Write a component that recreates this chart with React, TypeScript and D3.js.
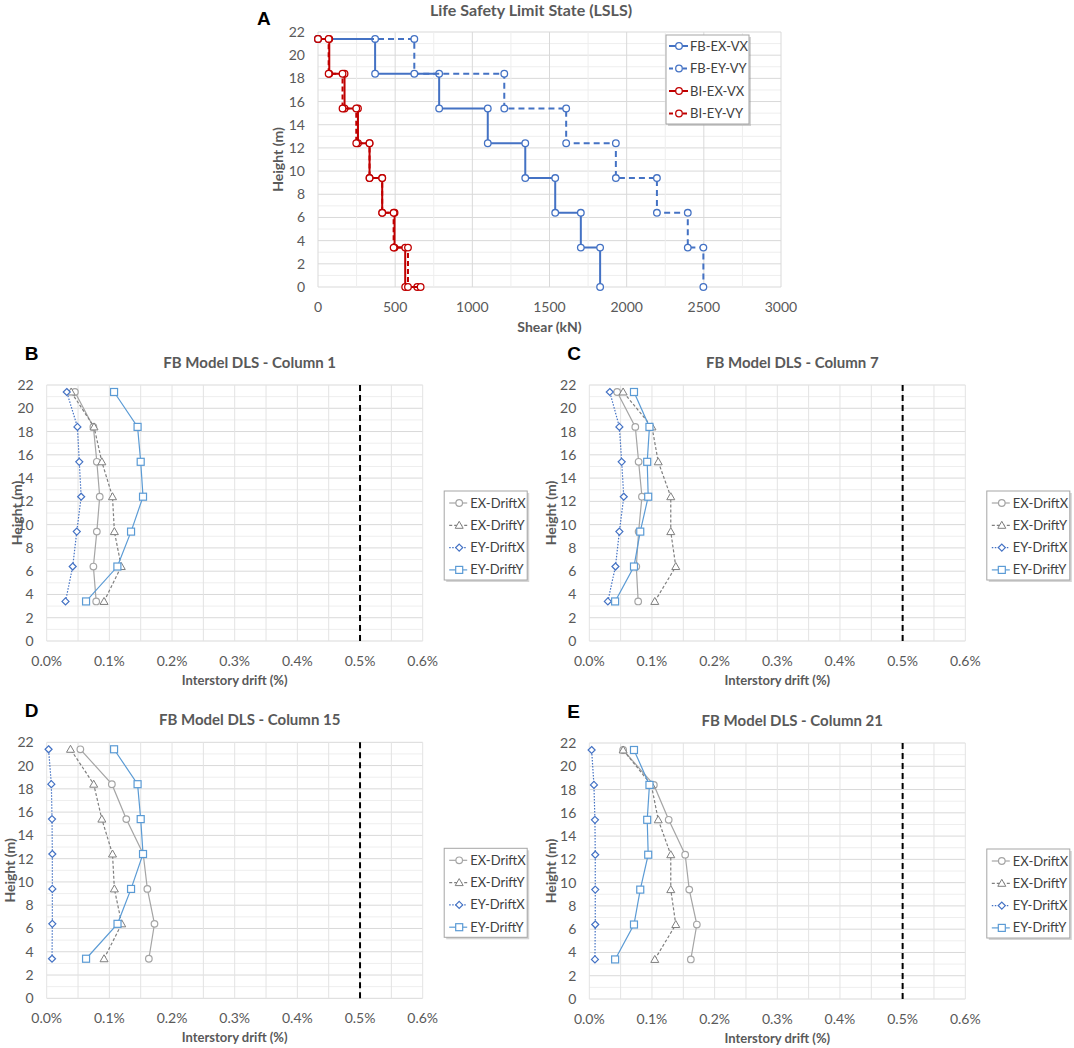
import * as d3 from "d3";
import React from "react";

// ---- data ----
const storyHeights = [21.4, 18.4, 15.4, 12.4, 9.4, 6.4, 3.4]; // top to bottom
const fbExVx = [370, 785, 1100, 1343, 1537, 1703, 1828];
const fbEyVy = [624, 1207, 1608, 1930, 2196, 2396, 2497];
const biExVx = [73, 172, 259, 334, 416, 496, 565];
const biEyVy = [69, 159, 248, 334, 416, 490, 583];
const biExBase = 643;
const biEyBase = 665;
const shearTicks = [0, 500, 1000, 1500, 2000, 2500, 3000];
const heightTicks = [0, 2, 4, 6, 8, 10, 12, 14, 16, 18, 20, 22];

const driftHeights = [3.4, 6.4, 9.4, 12.4, 15.4, 18.4, 21.4]; // bottom to top
const driftTicks = [0, 0.1, 0.2, 0.3, 0.4, 0.5, 0.6];
const driftLimit = 0.5;
const driftSeriesNames = ["EX-DriftX", "EX-DriftY", "EY-DriftX", "EY-DriftY"];

const col1ExX = [0.079, 0.0745, 0.08, 0.0846, 0.08, 0.0745, 0.045];
const col1ExY = [0.0915, 0.119, 0.108, 0.105, 0.088, 0.0755, 0.039];
const col1EyX = [0.03, 0.0415, 0.048, 0.055, 0.052, 0.049, 0.032];
const col1EyY = [0.0628, 0.1128, 0.1346, 0.1537, 0.15, 0.145, 0.1075];

const col7ExX = [0.078, 0.075, 0.0787, 0.084, 0.0787, 0.0734, 0.0444];
const col7ExY = [0.1045, 0.138, 0.13, 0.13, 0.11, 0.1, 0.054];
const col7EyX = [0.0296, 0.0417, 0.048, 0.055, 0.0517, 0.048, 0.0327];
const col7EyY = [0.0412, 0.0713, 0.0813, 0.094, 0.0924, 0.096, 0.0713];

const col15ExX = [0.163, 0.172, 0.1606, 0.154, 0.127, 0.104, 0.0537];
const col15ExY = [0.0915, 0.1197, 0.108, 0.105, 0.088, 0.075, 0.038];
const col15EyX = [0.0085, 0.009, 0.009, 0.009, 0.0085, 0.0074, 0.003];
const col15EyY = [0.0628, 0.113, 0.1346, 0.1537, 0.15, 0.145, 0.1075];

const col21ExX = [0.162, 0.1716, 0.1595, 0.153, 0.1267, 0.103, 0.054];
const col21ExY = [0.1045, 0.138, 0.13, 0.13, 0.11, 0.099, 0.054];
const col21EyX = [0.009, 0.0095, 0.0095, 0.0095, 0.009, 0.0074, 0.0037];
const col21EyY = [0.0412, 0.0713, 0.0813, 0.094, 0.0924, 0.096, 0.0713];

const FONT = "Lato, 'Open Sans', sans-serif";
const LABEL_FONT = "'Liberation Sans', Arial, sans-serif";
const TICK = "#595959";

type Pt = [number, number];

function Marker({ kind, x, y, color }: { kind: string; x: number; y: number; color: string }) {
  if (kind === "triangle") {
    return (
      <path
        d={`M${x},${y - 4}L${x + 4},${y + 3}L${x - 4},${y + 3}Z`}
        fill="#fff"
        stroke={color}
        strokeWidth={1}
      />
    );
  }
  if (kind === "diamond") {
    return (
      <path
        d={`M${x},${y - 3.5}L${x + 3.5},${y}L${x},${y + 3.5}L${x - 3.5},${y}Z`}
        fill="#fff"
        stroke={color}
        strokeWidth={1.2}
      />
    );
  }
  if (kind === "square") {
    return <rect x={x - 3.5} y={y - 3.5} width={7} height={7} fill="#fff" stroke={color} strokeWidth={1.2} />;
  }
  return <circle cx={x} cy={y} r={3.3} fill="#fff" stroke={color} strokeWidth={1.2} />;
}

// step profile: from roof down to base
function stepPoints(values: number[], base?: number): Pt[] {
  const pts: Pt[] = [[0, storyHeights[0]]];
  values.forEach((v, i) => {
    pts.push([v, storyHeights[i]]);
    pts.push([v, i + 1 < storyHeights.length ? storyHeights[i + 1] : 0]);
  });
  if (base !== undefined) pts.push([base, 0]);
  return pts;
}

function ShearPanel() {
  const left = 318,
    right = 781,
    top = 32,
    bottom = 287;
  const x = d3.scaleLinear().domain([0, 3000]).range([left, right]);
  const y = d3.scaleLinear().domain([0, 22]).range([bottom, top]);
  const line = d3
    .line<Pt>()
    .x((d) => x(d[0]))
    .y((d) => y(d[1]));

  const series = [
    { name: "FB-EX-VX", pts: stepPoints(fbExVx), color: "#4472C4", dash: undefined },
    { name: "FB-EY-VY", pts: stepPoints(fbEyVy), color: "#4472C4", dash: "6 4" },
    { name: "BI-EX-VX", pts: stepPoints(biExVx, biExBase), color: "#C00000", dash: undefined },
    { name: "BI-EY-VY", pts: stepPoints(biEyVy, biEyBase), color: "#C00000", dash: "5 3" },
  ];

  return (
    <g fontFamily={FONT}>
      <text x={257} y={25} fontFamily={LABEL_FONT} fontWeight="bold" fontSize={19}>
        A
      </text>
      <text x={531} y={16} textAnchor="middle" fontWeight="bold" fontSize={16} fill={TICK}>
        Life Safety Limit State (LSLS)
      </text>
      {d3.range(0, 23, 1).map((h) => (
        <line key={"h" + h} x1={left} x2={right} y1={y(h)} y2={y(h)} stroke={h % 2 ? "#eeeeee" : "#d9d9d9"} />
      ))}
      {d3.range(0, 3001, 250).map((v) => (
        <line key={"v" + v} x1={x(v)} x2={x(v)} y1={top} y2={bottom} stroke={v % 500 ? "#eeeeee" : "#d9d9d9"} />
      ))}
      {heightTicks.map((h) => (
        <text key={h} x={left - 13} y={y(h) + 5} textAnchor="end" fontSize={14} fill={TICK}>
          {h}
        </text>
      ))}
      {shearTicks.map((v) => (
        <text key={v} x={x(v)} y={bottom + 25} textAnchor="middle" fontSize={14} fill={TICK}>
          {v}
        </text>
      ))}
      <text x={(left + right) / 2} y={bottom + 45} textAnchor="middle" fontWeight="bold" fontSize={14} fill={TICK}>
        Shear (kN)
      </text>
      <text
        transform={`translate(${278},${(top + bottom) / 2}) rotate(-90)`}
        textAnchor="middle"
        dy={5}
        fontWeight="bold"
        fontSize={14}
        fill={TICK}
      >
        Height (m)
      </text>
      {series.map((s) => (
        <g key={s.name}>
          <path d={line(s.pts) || ""} fill="none" stroke={s.color} strokeWidth={2} strokeDasharray={s.dash} />
          {s.pts.map((p, i) => (
            <circle key={i} cx={x(p[0])} cy={y(p[1])} r={3.3} fill="#fff" stroke={s.color} strokeWidth={1.3} />
          ))}
        </g>
      ))}
      {/* legend */}
      <rect x={668} y={37} width={83} height={89} fill="#888" opacity={0.35} />
      <rect x={666} y={35} width={83} height={89} fill="#fff" stroke="#a6a6a6" />
      {series.map((s, i) => {
        const ly = 46 + i * 22.5;
        return (
          <g key={s.name}>
            <line x1={669} x2={688} y1={ly} y2={ly} stroke={s.color} strokeWidth={2} strokeDasharray={s.dash ? "4 3" : undefined} />
            <circle cx={679} cy={ly} r={3.3} fill="#fff" stroke={s.color} strokeWidth={1.3} />
            <text x={690} y={ly + 4.5} fontSize={13} fill="#404040">
              {s.name}
            </text>
          </g>
        );
      })}
    </g>
  );
}

function DriftPanel({
  label,
  title,
  left,
  top,
  yTitleX,
  exX,
  exY,
  eyX,
  eyY,
}: {
  label: string;
  title: string;
  left: number;
  top: number;
  yTitleX: number;
  exX: number[];
  exY: number[];
  eyX: number[];
  eyY: number[];
}) {
  const width = 376,
    height = 256;
  const right = left + width,
    bottom = top + height;
  const x = d3.scaleLinear().domain([0, 0.6]).range([left, right]);
  const y = d3.scaleLinear().domain([0, 22]).range([bottom, top]);
  const line = d3
    .line<number>()
    .x((d) => x(d))
    .y((_, i) => y(driftHeights[i]));

  const series = [
    { name: driftSeriesNames[0], vals: exX, color: "#A5A5A5", dash: undefined, marker: "circle" },
    { name: driftSeriesNames[1], vals: exY, color: "#7F7F7F", dash: "3 2", marker: "triangle" },
    { name: driftSeriesNames[2], vals: eyX, color: "#4472C4", dash: "1.5 1.5", marker: "diamond" },
    { name: driftSeriesNames[3], vals: eyY, color: "#5B9BD5", dash: undefined, marker: "square" },
  ];
  const lgX = left + 397.5,
    lgY = top + 106;

  return (
    <g fontFamily={FONT}>
      <text x={left - 22} y={top - 25} fontFamily={LABEL_FONT} fontWeight="bold" fontSize={19}>
        {label}
      </text>
      <text x={left + 203} y={top - 17} textAnchor="middle" fontWeight="bold" fontSize={15} fill={TICK}>
        {title}
      </text>
      {d3.range(0, 23, 1).map((h) => (
        <line key={"h" + h} x1={left} x2={right} y1={y(h)} y2={y(h)} stroke={h % 2 ? "#eeeeee" : "#d9d9d9"} />
      ))}
      {d3.range(0, 13, 1).map((k) => (
        <line key={"v" + k} x1={x(k * 0.05)} x2={x(k * 0.05)} y1={top} y2={bottom} stroke="#e3e3e3" />
      ))}
      {heightTicks.map((h) => (
        <text key={h} x={left - 13} y={y(h) + 5} textAnchor="end" fontSize={14} fill={TICK}>
          {h}
        </text>
      ))}
      {driftTicks.map((v) => (
        <text key={v} x={x(v)} y={bottom + 25} textAnchor="middle" fontSize={14} fill={TICK}>
          {d3.format(".1f")(v) + "%"}
        </text>
      ))}
      <text x={(left + right) / 2} y={bottom + 44} textAnchor="middle" fontWeight="bold" fontSize={13} fill={TICK}>
        Interstory drift (%)
      </text>
      <text
        transform={`translate(${yTitleX},${(top + bottom) / 2}) rotate(-90)`}
        textAnchor="middle"
        dy={5}
        fontWeight="bold"
        fontSize={14}
        fill={TICK}
      >
        Height (m)
      </text>
      <line x1={x(driftLimit)} x2={x(driftLimit)} y1={top} y2={bottom} stroke="#000" strokeWidth={2} strokeDasharray="6 4" />
      {series.map((s) => (
        <g key={s.name}>
          <path d={line(s.vals) || ""} fill="none" stroke={s.color} strokeWidth={1.2} strokeDasharray={s.dash} />
          {s.vals.map((v, i) => (
            <Marker key={i} kind={s.marker} x={x(v)} y={y(driftHeights[i])} color={s.color} />
          ))}
        </g>
      ))}
      <rect x={lgX + 2} y={lgY + 2} width={83} height={89} fill="#888" opacity={0.35} />
      <rect x={lgX} y={lgY} width={83} height={89} fill="#fff" stroke="#a6a6a6" />
      {series.map((s, i) => {
        const ly = lgY + 12 + i * 22.3;
        return (
          <g key={s.name}>
            <line x1={lgX + 5} x2={lgX + 23} y1={ly} y2={ly} stroke={s.color} strokeWidth={1.2} strokeDasharray={s.dash} />
            <Marker kind={s.marker} x={lgX + 15} y={ly} color={s.color} />
            <text x={lgX + 26} y={ly + 4.5} fontSize={13} fill="#404040">
              {s.name}
            </text>
          </g>
        );
      })}
    </g>
  );
}

export default function App() {
  return (
    <svg
      width={1074}
      height={1048}
      style={{ position: "absolute", left: 0, top: 0, background: "#fff" }}
    >
      <rect width={1074} height={1048} fill="#fff" />
      <ShearPanel />
      <DriftPanel label="B" title="FB Model DLS - Column 1" left={46.7} top={385} yTitleX={17}
        exX={col1ExX} exY={col1ExY} eyX={col1EyX} eyY={col1EyY} />
      <DriftPanel label="C" title="FB Model DLS - Column 7" left={589.3} top={385} yTitleX={551}
        exX={col7ExX} exY={col7ExY} eyX={col7EyX} eyY={col7EyY} />
      <DriftPanel label="D" title="FB Model DLS - Column 15" left={46.7} top={742.3} yTitleX={10}
        exX={col15ExX} exY={col15ExY} eyX={col15EyX} eyY={col15EyY} />
      <DriftPanel label="E" title="FB Model DLS - Column 21" left={589.3} top={743} yTitleX={551}
        exX={col21ExX} exY={col21ExY} eyX={col21EyX} eyY={col21EyY} />
    </svg>
  );
}
